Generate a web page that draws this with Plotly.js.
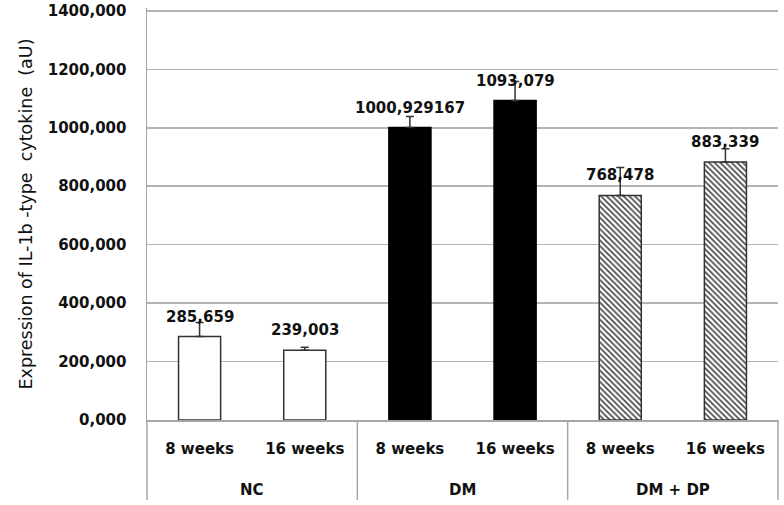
<!DOCTYPE html>
<html>
<head>
<meta charset="utf-8">
<script src="https://cdn.plot.ly/plotly-3.0.1.min.js"></script>
<style>
  html, body { margin: 0; padding: 0; background: #fff; }
  #chart { width: 784px; height: 505px; }
</style>
</head>
<body>
<div id="chart"></div>
<script>
// groups and sub-categories
const groups = ['NC', 'DM', 'DM + DP'];
const periods = ['8 weeks', '16 weeks'];

// bar heights, upper error bars and the printed labels
const ncValues = [285.659, 239.003];
const dmValues = [1000.929167, 1093.079];
const dpValues = [768.478, 883.339];
const ncErrors = [48, 10];
const dmErrors = [38, 65];
const dpErrors = [96, 45];
const valueLabels = ['285,659', '239,003', '1000,929167', '1093,079', '768,478', '883,339'];

// y axis ticks
const yTicks = [0, 200, 400, 600, 800, 1000, 1200, 1400];
const yTickText = ['0,000', '200,000', '400,000', '600,000', '800,000', '1000,000', '1200,000', '1400,000'];

const FONT = 'DejaVu Sans, sans-serif';
const W = 784, H = 505;
const margin = { l: 147, r: 6, t: 8, b: 85 };
const plotH = H - margin.t - margin.b;

// positions on the numeric x axis: 0..5
const xs = groups.map((g, gi) => periods.map((p, pi) => gi * periods.length + pi));
const allValues = ncValues.concat(dmValues, dpValues);

function barTrace(x, y, err, marker) {
    return {
        type: 'bar',
        x: x, y: y,
        width: 0.4,
        marker: marker,
        error_y: {
            type: 'data', symmetric: false,
            array: err, arrayminus: err.map(() => 0),
            color: '#333', thickness: 1.5, width: 4
        },
        hoverinfo: 'skip',
        showlegend: false
    };
}

const traces = [
    barTrace(xs[0], ncValues, ncErrors, { color: '#ffffff', line: { color: '#333', width: 1.5 } }),
    barTrace(xs[1], dmValues, dmErrors, { color: '#000000', line: { color: '#000', width: 1.5 } }),
    barTrace(xs[2], dpValues, dpErrors, {
        color: '#ffffff',
        line: { color: '#333', width: 1.5 },
        pattern: { shape: '\\', fgcolor: '#444', bgcolor: '#ffffff', size: 4, solidity: 0.4 }
    })
];

const tickVals = xs.flat();
const tickText = groups.flatMap(() => periods);
const boldFont = { family: FONT, size: 15, color: '#111', weight: 'bold' };

// value labels above each bar
const annotations = tickVals.map((x, i) => ({
    x: x, y: allValues[i], xref: 'x', yref: 'y',
    text: valueLabels[i], showarrow: false,
    yanchor: 'middle', yshift: 20,
    font: boldFont
}));

// group labels below the week labels
groups.forEach((g, gi) => {
    annotations.push({
        x: gi * periods.length + (periods.length - 1) / 2, y: -70 / plotH,
        xref: 'x', yref: 'paper', text: g, showarrow: false,
        yanchor: 'middle',
        font: boldFont
    });
});

// divider lines of the category box
const shapes = [];
for (let k = 0; k <= groups.length; k++) {
    shapes.push({
        type: 'line', xref: 'paper', yref: 'paper',
        x0: k / groups.length, x1: k / groups.length,
        y0: 0, y1: -80 / plotH,
        line: { color: '#a6a6a6', width: 1.5 }
    });
}

const layout = {
    width: W, height: H,
    margin: margin,
    paper_bgcolor: '#fff', plot_bgcolor: '#fff',
    bargap: 0.6,
    xaxis: {
        range: [-0.5, tickVals.length - 0.5],
        tickvals: tickVals, ticktext: tickText,
        showgrid: false, zeroline: false,
        showline: true, linecolor: '#a6a6a6', linewidth: 1.5,
        ticks: 'outside', ticklen: 14, tickcolor: 'rgba(0,0,0,0)',
        tickfont: boldFont,
        fixedrange: true
    },
    yaxis: {
        range: [0, 1410],
        tickvals: yTicks, ticktext: yTickText,
        showgrid: true, gridcolor: '#b4b4b4', gridwidth: 1.5,
        zeroline: false,
        showline: true, linecolor: '#a6a6a6', linewidth: 1.5,
        ticks: 'outside', ticklen: 16, tickcolor: 'rgba(0,0,0,0)',
        tickfont: boldFont,
        title: {
            text: 'Expression of IL-1b -type\u00a0 cytokine\u00a0 (aU)',
            font: { family: FONT, size: 17.5, color: '#111' },
            standoff: 10
        },
        fixedrange: true
    },
    annotations: annotations,
    shapes: shapes
};

Plotly.newPlot('chart', traces, layout, { displayModeBar: false, staticPlot: true });
</script>
</body>
</html>
